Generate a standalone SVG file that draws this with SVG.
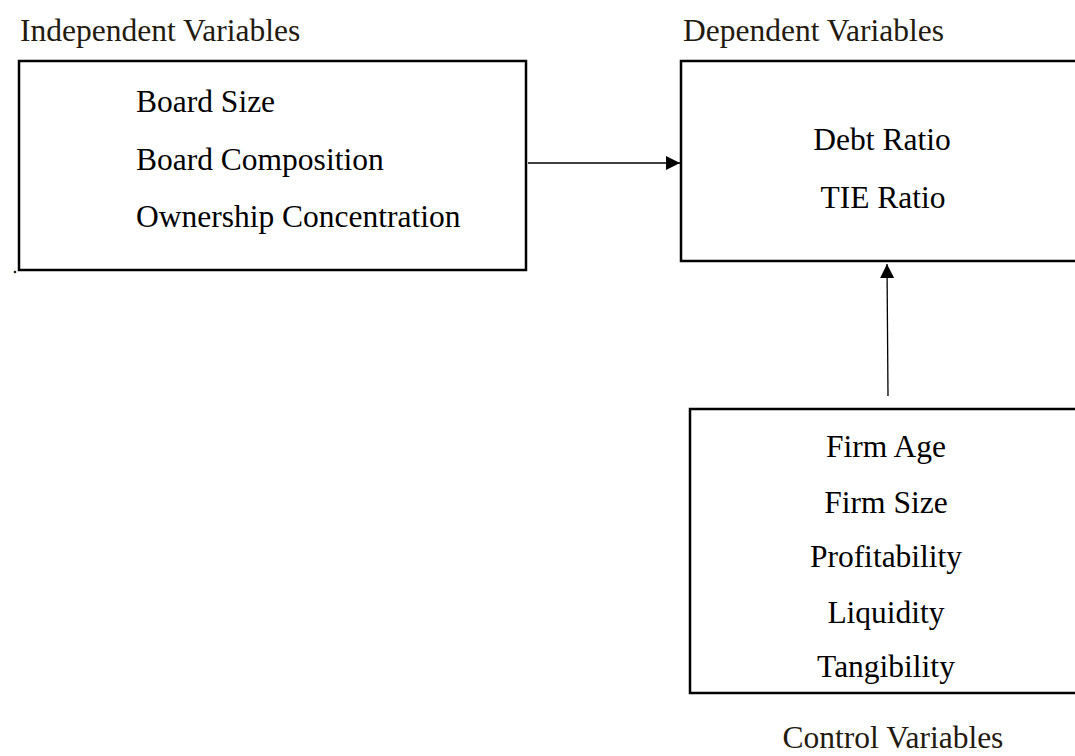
<svg xmlns="http://www.w3.org/2000/svg" width="1075" height="756" viewBox="0 0 1075 756">
<defs>
<style>
.box{fill:#fff;stroke:#000;stroke-width:2.5}
.t{font-family:"Liberation Serif","Times New Roman",serif;font-size:31.5px;fill:#000}
.h{font-family:"Liberation Serif","Times New Roman",serif;font-size:31.5px;fill:#231a10}
.c{stroke:#000;stroke-width:1.3;fill:none}
</style>
<marker id="ah" markerWidth="14" markerHeight="14" refX="14" refY="7" orient="auto" markerUnits="userSpaceOnUse">
<path d="M0,0 L14,7 L0,14 Z" fill="#000"/>
</marker>
</defs>
<rect width="1075" height="756" fill="#fff"/>
<text class="h" x="20" y="41">Independent Variables</text>
<text class="h" x="683" y="41">Dependent Variables</text>
<text class="h" x="893" y="748" text-anchor="middle">Control Variables</text>
<g id="independent">
<rect class="box" x="19" y="61" width="507" height="209"/>
<text class="t" x="136" y="112">Board Size</text>
<text class="t" x="136" y="170">Board Composition</text>
<text class="t" x="136" y="227">Ownership Concentration</text>
</g>
<circle cx="15" cy="272" r="1.3" fill="#231a10"/>
<g id="dependent">
<rect class="box" x="681" y="61" width="400" height="200"/>
<text class="t" x="882" y="150" text-anchor="middle">Debt Ratio</text>
<text class="t" x="883" y="208" text-anchor="middle">TIE Ratio</text>
</g>
<g id="control">
<rect class="box" x="690" y="409" width="400" height="284"/>
<text class="t" x="886" y="457" text-anchor="middle">Firm Age</text>
<text class="t" x="886" y="513" text-anchor="middle">Firm Size</text>
<text class="t" x="886" y="567" text-anchor="middle">Profitability</text>
<text class="t" x="886" y="623" text-anchor="middle">Liquidity</text>
<text class="t" x="886" y="677" text-anchor="middle">Tangibility</text>
</g>
<g id="connectors">
<line class="c" x1="528" y1="163" x2="680" y2="163" marker-end="url(#ah)"/>
<line class="c" x1="888" y1="396" x2="887" y2="264" marker-end="url(#ah)"/>
</g>
</svg>
